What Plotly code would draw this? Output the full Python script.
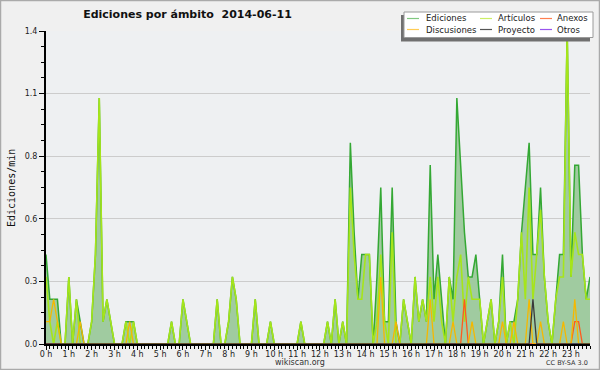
import plotly.graph_objects as go

# ---------------- data (10-minute slots, edits per minute) ----------------
hours = list(range(24))
slots = list(range(144))
hour_ticks = [h * 6 for h in hours]
hour_labels = [f"{h} h" for h in hours]

y_tickvals = [0, 0.28, 0.56, 0.84, 1.12, 1.4]
y_ticktext = ["0.0", "0.3", "0.6", "0.8", "1.1", "1.4"]

ediciones = [
    0.4, 0.2, 0.2, 0.2, 0, 0,      0.3, 0, 0.2, 0.1, 0, 0,
    0.1, 0.4, 1.1, 0.1, 0.2, 0.1,  0, 0, 0, 0.1, 0.1, 0.1,
    0, 0, 0, 0, 0, 0,              0, 0, 0, 0.1, 0, 0,
    0.2, 0.1, 0, 0, 0, 0,          0, 0, 0, 0.2, 0, 0,
    0.1, 0.3, 0.2, 0, 0, 0,        0, 0.2, 0, 0, 0, 0.1,
    0, 0, 0, 0, 0, 0,              0, 0.1, 0, 0, 0, 0,
    0, 0, 0.1, 0, 0.2, 0,          0.1, 0, 0.9, 0.5, 0.2, 0.4,
    0.4, 0.4, 0, 0.3, 0.7, 0.1,    0.1, 0.7, 0.1, 0, 0.2, 0.1,
    0, 0.3, 0.1, 0.2, 0.1, 0.8,    0.2, 0.4, 0.2, 0, 0.3, 0.2,
    1.1, 0.8, 0.5, 0.3, 0.3, 0.4,  0.2, 0, 0.1, 0.2, 0, 0.1,
    0.4, 0, 0.1, 0.1, 0.2, 0.5,    0.7, 0.9, 0.4, 0.4, 0.7, 0.3,
    0.1, 0, 0.2, 0.4, 0.4, 1.4,    0.3, 0.8, 0.8, 0.4, 0.2, 0.3,
]

articulos = [
    0.3, 0.1, 0, 0.1, 0, 0,        0.3, 0, 0.2, 0, 0, 0,
    0.1, 0.4, 1.1, 0.1, 0.2, 0.1,  0, 0, 0, 0.1, 0, 0.1,
    0, 0, 0, 0, 0, 0,              0, 0, 0, 0.1, 0, 0,
    0.2, 0.1, 0, 0, 0, 0,          0, 0, 0, 0.2, 0, 0,
    0.1, 0.3, 0.2, 0, 0, 0,        0, 0.2, 0, 0, 0, 0.1,
    0, 0, 0, 0, 0, 0,              0, 0.1, 0, 0, 0, 0,
    0, 0, 0.1, 0, 0.2, 0,          0.1, 0, 0.7, 0.4, 0.2, 0.2,
    0.4, 0.4, 0, 0.1, 0.4, 0.1,    0, 0.5, 0, 0, 0.2, 0.1,
    0, 0.3, 0.1, 0.2, 0.1, 0.3,    0.1, 0.3, 0.1, 0, 0.3, 0.1,
    0.3, 0.4, 0.1, 0.3, 0.2, 0.2,  0.2, 0, 0.1, 0.2, 0, 0.1,
    0.3, 0, 0.1, 0, 0.2, 0.5,      0.2, 0.7, 0.2, 0.4, 0.6, 0.3,
    0.1, 0, 0.2, 0.3, 0.3, 1.4,    0.3, 0.5, 0.4, 0.4, 0.2, 0.2,
]

discusiones = [
    0.1, 0.1, 0.2, 0.1, 0, 0,      0, 0, 0, 0.1, 0, 0,
    0, 0, 0, 0, 0, 0,              0, 0, 0, 0, 0.1, 0,
    0, 0, 0, 0, 0, 0,              0, 0, 0, 0, 0, 0,
    0, 0, 0, 0, 0, 0,              0, 0, 0, 0, 0, 0,
    0, 0, 0, 0, 0, 0,              0, 0, 0, 0, 0, 0,
    0, 0, 0, 0, 0, 0,              0, 0, 0, 0, 0, 0,
    0, 0, 0, 0, 0, 0,              0, 0, 0, 0, 0, 0,
    0, 0, 0, 0, 0.3, 0,            0, 0, 0.1, 0, 0, 0,
    0, 0, 0, 0, 0, 0.2,            0, 0, 0, 0, 0, 0.1,
    0, 0, 0, 0, 0.1, 0,            0, 0, 0, 0, 0, 0,
    0.1, 0, 0, 0.1, 0, 0,          0, 0.2, 0, 0, 0.1, 0,
    0, 0, 0, 0, 0.1, 0,            0, 0.2, 0, 0, 0, 0,
]

anexos = [0] * 110 + [0.2] + [0] * 28 + [0.1, 0.1] + [0] * 3
proyecto = [0] * 128 + [0.2] + [0] * 15
otros = [0] * 144

# ---------------- helpers for pixel placement ----------------
L, R, T, B = 46, 590, 31, 344
def px(X):
    return (X - L) / (R - L)
def py(Y):
    return (B - Y) / (B - T)

FONT = "DejaVu Sans"

fig = go.Figure()
fig.add_trace(go.Scatter(x=slots, y=ediciones, mode="lines", name="Ediciones",
                         line=dict(color="#34a834", width=1.5),
                         fill="tozeroy", fillcolor="#a0cba0"))
fig.add_trace(go.Scatter(x=slots, y=articulos, mode="lines", name="Artículos",
                         line=dict(color="#a6e51a", width=1.6)))
fig.add_trace(go.Scatter(x=slots, y=otros, mode="lines", name="Otros",
                         line=dict(color="#9933ff", width=1.2)))
fig.add_trace(go.Scatter(x=slots, y=anexos, mode="lines", name="Anexos",
                         line=dict(color="#ff5a1e", width=1.3)))
fig.add_trace(go.Scatter(x=slots, y=discusiones, mode="lines", name="Discusiones",
                         line=dict(color="#f5b800", width=1.3)))
fig.add_trace(go.Scatter(x=slots, y=proyecto, mode="lines", name="Proyecto",
                         line=dict(color="#3a3a3a", width=1.3)))

shapes = []
annotations = []

# outer frame
shapes.append(dict(type="rect", xref="paper", yref="paper",
                   x0=px(0.5), x1=px(599.5), y0=py(369.5), y1=py(0.5),
                   line=dict(color="#aaaaaa", width=1.5), layer="above"))

# legend box (shadow + white box)
shapes.append(dict(type="rect", xref="paper", yref="paper",
                   x0=px(401), x1=px(590), y0=py(41.5), y1=py(15),
                   line=dict(width=0), fillcolor="#707070", layer="above"))
shapes.append(dict(type="rect", xref="paper", yref="paper",
                   x0=px(404), x1=px(593), y0=py(37.5), y1=py(12),
                   line=dict(color="#9a9a9a", width=1), fillcolor="#ffffff", layer="above"))

legend_items = [
    ("Ediciones", "#80c880", 407, 424, 18.5),
    ("Artículos", "#ccee66", 480, 496, 18.5),
    ("Anexos", "#ff7f50", 540, 555, 18.5),
    ("Discusiones", "#ffcc55", 407, 424, 29.5),
    ("Proyecto", "#555555", 480, 496, 29.5),
    ("Otros", "#9955ee", 540, 555, 29.5),
]
for name, col, lx, tx, ly in legend_items:
    shapes.append(dict(type="line", xref="paper", yref="paper",
                       x0=px(lx), x1=px(lx + 12), y0=py(ly), y1=py(ly),
                       line=dict(color=col, width=1.2), layer="above"))
    annotations.append(dict(text=name, xref="paper", yref="paper",
                            x=px(tx), y=py(ly), xanchor="left", yanchor="middle",
                            showarrow=False, font=dict(family=FONT, size=8.5, color="#222222")))

# axis title and footer texts
annotations.append(dict(text="Ediciones/min", xref="paper", yref="paper",
                        x=px(11), y=py(188), textangle=-90, showarrow=False,
                        xanchor="center", yanchor="middle",
                        font=dict(family="DejaVu Sans Mono", size=10, color="#111111")))
annotations.append(dict(text="wikiscan.org", xref="paper", yref="paper",
                        x=px(300), y=py(362.5), showarrow=False,
                        xanchor="center", yanchor="middle",
                        font=dict(family=FONT, size=8, color="#333333")))
annotations.append(dict(text="CC BY-SA 3.0", xref="paper", yref="paper",
                        x=px(590), y=py(362.5), showarrow=False,
                        xanchor="right", yanchor="middle",
                        font=dict(family=FONT, size=6.5, color="#333333")))

fig.update_layout(
    width=600, height=370,
    margin=dict(l=L, r=600 - R, t=T, b=370 - B, pad=0),
    paper_bgcolor="#f0f0f0", plot_bgcolor="#eef0f2",
    showlegend=False,
    title=dict(text="<b>Ediciones por ámbito \u00a02014-06-11</b>",
               x=187.5 / 600, y=1 - 14 / 370, xanchor="center", yanchor="middle",
               font=dict(family=FONT, size=11, color="#111111")),
    shapes=shapes, annotations=annotations,
    xaxis=dict(range=[0, 143], tickmode="array", tickvals=hour_ticks, ticktext=hour_labels,
               ticks="outside", ticklen=4, tickwidth=1, tickcolor="#000000",
               showline=True, linecolor="#000000", linewidth=2,
               showgrid=False, zeroline=False, ticklabelstandoff=-3,
               tickfont=dict(family=FONT, size=8, color="#222222"),
               minor=dict(tickmode="linear", tick0=0, dtick=1, ticks="outside",
                          ticklen=3, tickwidth=1, tickcolor="#000000", showgrid=False)),
    yaxis=dict(range=[0, 1.4], tickmode="array", tickvals=y_tickvals, ticktext=y_ticktext,
               ticks="outside", ticklen=5, tickwidth=1, tickcolor="#000000",
               showline=True, linecolor="#000000", linewidth=2,
               showgrid=True, gridcolor="#cccccc", gridwidth=1, zeroline=False,
               tickfont=dict(family=FONT, size=8, color="#222222"),
               minor=dict(tickmode="linear", tick0=0, dtick=0.07, ticks="outside",
                          ticklen=3, tickwidth=1, tickcolor="#000000", showgrid=False)),
)

fig.write_html("out.html", config={"displayModeBar": False},
               post_script="document.body.style.margin='0';document.body.style.padding='0';")
